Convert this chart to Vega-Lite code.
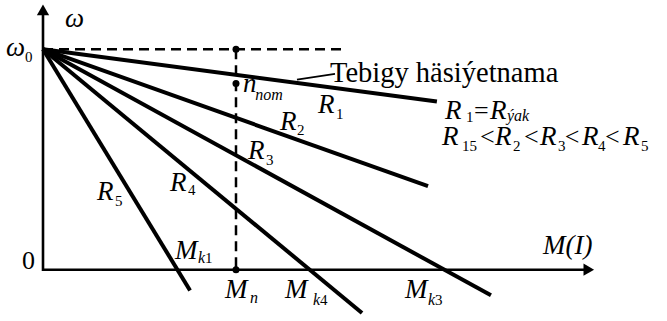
{
  "$schema": "https://vega.github.io/schema/vega-lite/v6.json",
  "autosize": {"type": "fit", "contains": "padding"},
  "width": 667,
  "height": 321,
  "padding": 0,
  "background": "white",
  "config": {"view": {"stroke": null}, "text": {"font": "'Liberation Serif', 'Times New Roman', Times, 'DejaVu Serif', serif"}},
  "datasets": {
    "characteristics": [
      {"series": "R1", "M": 0, "w": 1}, {"series": "R1", "M": 2.041, "w": 0.763},
      {"series": "R2", "M": 0, "w": 1}, {"series": "R2", "M": 1.995, "w": 0.379},
      {"series": "R3", "M": 0, "w": 1}, {"series": "R3", "M": 2.321, "w": -0.116},
      {"series": "R4", "M": 0, "w": 1}, {"series": "R4", "M": 1.653, "w": -0.196},
      {"series": "R5", "M": 0, "w": 1}, {"series": "R5", "M": 0.762, "w": -0.094}
    ],
    "axes": [
      {"k": 1, "M": 0, "w": 1.17},
      {"k": 2, "M": 0, "w": 0},
      {"k": 3, "M": 2.808, "w": 0}
    ],
    "guides": [
      {"part": "w0", "M": 0, "w": 1}, {"part": "w0", "M": 1.549, "w": 1},
      {"part": "Mn", "M": 1, "w": 1}, {"part": "Mn", "M": 1, "w": 0}
    ],
    "leader": [
      {"M": 1.316, "w": 0.862}, {"M": 1.513, "w": 0.888}
    ],
    "yArrow": [{"M": 0, "w": 1.1786}],
    "xArrow": [{"M": 2.828, "w": 0}],
    "points": [
      {"name": "w0 at Mn", "M": 1, "w": 1},
      {"name": "n_nom", "M": 1, "w": 0.844},
      {"name": "Mn", "M": 1, "w": 0}
    ],
    "italicLabels": [
      {"t": "ω", "M": 0.114, "w": 1.103},
      {"t": "ω", "M": -0.192, "w": 0.969},
      {"t": "n", "M": 1.036, "w": 0.808},
      {"t": "R", "M": 1.425, "w": 0.71},
      {"t": "R", "M": 1.228, "w": 0.634},
      {"t": "R", "M": 1.062, "w": 0.5},
      {"t": "R", "M": 0.658, "w": 0.357},
      {"t": "R", "M": 0.28, "w": 0.317},
      {"t": "M", "M": 0.684, "w": 0.049},
      {"t": "M", "M": 0.943, "w": -0.129},
      {"t": "M", "M": 1.254, "w": -0.129},
      {"t": "M", "M": 1.876, "w": -0.129},
      {"t": "M(I)", "M": 2.591, "w": 0.071},
      {"t": "R", "M": 2.083, "w": 0.683},
      {"t": "R", "M": 2.316, "w": 0.683},
      {"t": "R", "M": 2.067, "w": 0.567},
      {"t": "R", "M": 2.342, "w": 0.567},
      {"t": "R", "M": 2.575, "w": 0.567},
      {"t": "R", "M": 2.793, "w": 0.567},
      {"t": "R", "M": 3.005, "w": 0.567}
    ],
    "uprightLabels": [
      {"t": "0", "M": -0.109, "w": 0.0045},
      {"t": "=", "M": 2.233, "w": 0.683},
      {"t": "<", "M": 2.264, "w": 0.567},
      {"t": "<", "M": 2.492, "w": 0.567},
      {"t": "<", "M": 2.704, "w": 0.567},
      {"t": "<", "M": 2.912, "w": 0.567}
    ],
    "caption": [
      {"t": "Tebigy häsiýetnama", "M": 1.487, "w": 0.853}
    ],
    "subDigits": [
      {"t": "0", "M": -0.093, "w": 0.942},
      {"t": "1", "M": 1.518, "w": 0.683},
      {"t": "2", "M": 1.316, "w": 0.612},
      {"t": "3", "M": 1.155, "w": 0.473},
      {"t": "4", "M": 0.751, "w": 0.339},
      {"t": "5", "M": 0.373, "w": 0.29},
      {"t": "1", "M": 0.839, "w": 0.031},
      {"t": "4", "M": 1.435, "w": -0.161},
      {"t": "3", "M": 2.031, "w": -0.161},
      {"t": "1", "M": 2.192, "w": 0.67},
      {"t": "15", "M": 2.171, "w": 0.54},
      {"t": "2", "M": 2.435, "w": 0.54},
      {"t": "3", "M": 2.668, "w": 0.54},
      {"t": "4", "M": 2.876, "w": 0.54},
      {"t": "5", "M": 3.098, "w": 0.54}
    ],
    "subItalic": [
      {"t": "nom", "M": 1.1, "w": 0.768},
      {"t": "n", "M": 1.073, "w": -0.152},
      {"t": "k", "M": 0.803, "w": 0.031},
      {"t": "k", "M": 1.399, "w": -0.161},
      {"t": "k", "M": 1.995, "w": -0.161},
      {"t": "ýak", "M": 2.404, "w": 0.674}
    ]
  },
  "encoding": {
    "x": {"field": "M", "type": "quantitative", "scale": {"domain": [-0.2228, 3.2332], "nice": false, "zero": false}, "axis": null},
    "y": {"field": "w", "type": "quantitative", "scale": {"domain": [-0.2098, 1.2232], "nice": false, "zero": false}, "axis": null}
  },
  "layer": [
    {
      "data": {"name": "axes"},
      "mark": {"type": "line", "color": "black", "strokeWidth": 2.6, "strokeJoin": "miter"},
      "encoding": {"order": {"field": "k", "type": "quantitative"}}
    },
    {
      "data": {"name": "yArrow"},
      "mark": {"type": "point", "shape": "triangle-up", "size": 150, "filled": true, "color": "black", "opacity": 1}
    },
    {
      "data": {"name": "xArrow"},
      "mark": {"type": "point", "shape": "triangle-right", "size": 150, "filled": true, "color": "black", "opacity": 1}
    },
    {
      "data": {"name": "guides"},
      "mark": {"type": "line", "color": "black", "strokeWidth": 2.5, "strokeDash": [10, 6]},
      "encoding": {"detail": {"field": "part"}}
    },
    {
      "data": {"name": "characteristics"},
      "mark": {"type": "line", "color": "black", "strokeWidth": 4},
      "encoding": {"detail": {"field": "series"}}
    },
    {
      "data": {"name": "leader"},
      "mark": {"type": "line", "color": "black", "strokeWidth": 1.8},
      "encoding": {}
    },
    {
      "data": {"name": "points"},
      "mark": {"type": "circle", "size": 49, "color": "black", "opacity": 1}
    },
    {
      "data": {"name": "italicLabels"},
      "mark": {"type": "text", "fontStyle": "italic", "fontSize": 27, "align": "left", "baseline": "alphabetic", "color": "black"},
      "encoding": {"text": {"field": "t"}}
    },
    {
      "data": {"name": "uprightLabels"},
      "mark": {"type": "text", "fontSize": 26, "align": "left", "baseline": "alphabetic", "color": "black"},
      "encoding": {"text": {"field": "t"}}
    },
    {
      "data": {"name": "caption"},
      "mark": {"type": "text", "fontSize": 28.5, "align": "left", "baseline": "alphabetic", "color": "black"},
      "encoding": {"text": {"field": "t"}}
    },
    {
      "data": {"name": "subDigits"},
      "mark": {"type": "text", "fontSize": 15, "align": "left", "baseline": "alphabetic", "color": "black"},
      "encoding": {"text": {"field": "t"}}
    },
    {
      "data": {"name": "subItalic"},
      "mark": {"type": "text", "fontStyle": "italic", "fontSize": 16, "align": "left", "baseline": "alphabetic", "color": "black"},
      "encoding": {"text": {"field": "t"}}
    }
  ]
}
